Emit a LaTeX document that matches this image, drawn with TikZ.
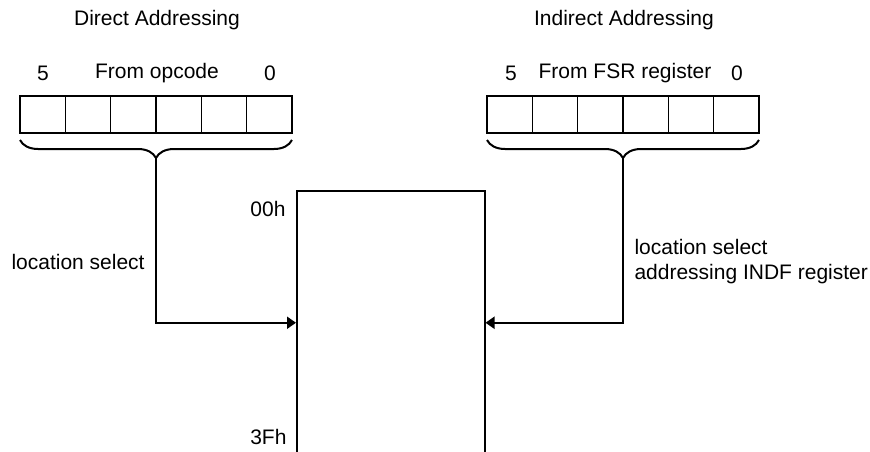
\documentclass[tikz,border=0pt]{standalone}
\usepackage{fontspec}
\setmainfont{Liberation Sans}
\usepackage{tikz}
\usetikzlibrary{calc,positioning,arrows.meta,decorations,decorations.pathreplacing}
\newcommand{\tikzRegisterNode}[2]{
  \node[cell,anchor=north west] (#1a) at (#2) {};
  \node[cell,right=0pt of #1a] (#1b) {};
  \node[cell,right=0pt of #1b] (#1c) {};
  \node[cell,right=0pt of #1c] (#1d) {};
  \node[cell,right=0pt of #1d] (#1e) {};
  \node[cell,right=0pt of #1e] (#1f) {};
}

\begin{document}
\begin{tikzpicture}[x=1pt, y=-1pt, font=\fontsize{21}{25}\selectfont,
    cell/.style={draw,line width=1.5pt,rectangle,inner sep=0pt,outer sep=0pt,minimum height=37pt,minimum width=45.33pt},
    regbrace/.style={draw,line width=2pt,decorate,decoration={brace,mirror,amplitude=18pt}},
    select/.style={draw,line width=2pt,-{Triangle[length=9pt,width=12pt]}}]
  \useasboundingbox[fill=white] (0,0) rectangle (870,452);
  % registers
  \tikzRegisterNode{d}{20,96}
  \tikzRegisterNode{i}{487,96}
  \node (dtitle) at (157,20) {Direct Addressing};
  \node (ititle) at (624,20) {Indirect Addressing};
  \node (dmsb) at (43,73) {5};
  \node (dsrc) at (157,73) {From opcode};
  \node (dlsb) at (270,73) {0};
  \node (imsb) at (511,73) {5};
  \node (isrc) at (625,73) {From FSR register};
  \node (ilsb) at (737,73) {0};
  \path[regbrace] ($(da.south west)+(0,7)$) -- ($(df.south east)+(0,7)$);
  \path[regbrace] ($(ia.south west)+(0,7)$) -- ($(if.south east)+(0,7)$);
  \coordinate (dtip) at ($(da.south west)!0.5!(df.south east)+(0,25)$);
  \coordinate (itip) at ($(ia.south west)!0.5!(if.south east)+(0,25)$);
  % data memory
  \node[draw,line width=1.5pt,rectangle,inner sep=0pt,minimum width=188pt,minimum height=264pt,anchor=north west] (mem) at (296,190) {};
  \node[anchor=east] (top) at (289,209) {00h};
  \node[anchor=east] (bot) at (290,437) {3Fh};
  \path[select] (dtip) |- (mem.west);
  \path[select] (itip) |- (mem.east);
  \node[anchor=west] (dsel) at (8,262) {location select};
  \node[anchor=west,align=left] (isel) at (631,262) {location select\\addressing INDF register};
\end{tikzpicture}
\end{document}
